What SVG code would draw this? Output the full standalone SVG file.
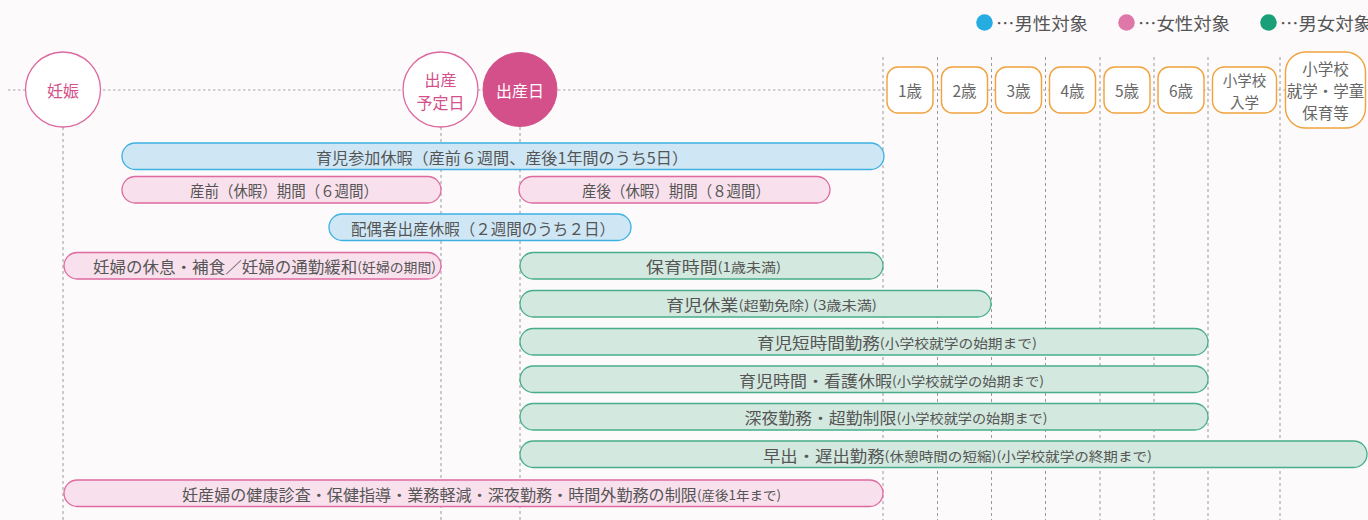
<svg xmlns="http://www.w3.org/2000/svg" width="1368" height="520" viewBox="0 0 1368 520">
<style>
text{font-family:"Noto Sans CJK JP","Noto Sans",sans-serif;}
.bg{fill:#fdfafc;}
.vl{stroke:#9a9a9a;stroke-width:1;stroke-dasharray:3 3;fill:none;}
.hl{stroke:#a8a8a8;stroke-width:1.2;stroke-dasharray:2.5 2.5;fill:none;}
.ring{fill:#ffffff;stroke:#dc6a9f;stroke-width:1.3;}
.ringf{fill:#d4508a;stroke:#d4508a;}
.ctext{fill:#d4508a;font-size:16px;text-anchor:middle;dominant-baseline:central;}
.ctextw{fill:#ffffff;font-size:16px;text-anchor:middle;dominant-baseline:central;}
.age{fill:#ffffff;stroke:#f0a23c;stroke-width:1.4;}
.atext{fill:#666666;font-size:15.5px;text-anchor:middle;dominant-baseline:central;}
.atext2{fill:#666666;font-size:14.5px;text-anchor:middle;dominant-baseline:central;}
.blue{fill:#cfe7f5;stroke:#3cb1e2;stroke-width:1.3;}
.pink{fill:#f8e1ed;stroke:#de6aa0;stroke-width:1.3;}
.green{fill:#d3e8de;stroke:#47ad8b;stroke-width:1.3;}
.bt{fill:#555555;font-size:15.5px;dominant-baseline:central;}
.sm{font-size:13px;}
.lg{fill:#555555;font-size:17.5px;dominant-baseline:central;}
</style>
<rect class="bg" x="0" y="0" width="1368" height="520"/>

<g id="connectors">
  <line class="hl" x1="8" y1="90" x2="1368" y2="90"/>
  <line class="vl" x1="63" y1="127" x2="63" y2="520"/>
  <line class="vl" x1="441" y1="127" x2="441" y2="520"/>
  <line class="vl" x1="520" y1="127" x2="520" y2="520"/>
  <line class="vl" x1="883" y1="57" x2="883" y2="520"/>
  <line class="vl" x1="937.5" y1="57" x2="937.5" y2="520"/>
  <line class="vl" x1="991.5" y1="57" x2="991.5" y2="520"/>
  <line class="vl" x1="1045.5" y1="57" x2="1045.5" y2="520"/>
  <line class="vl" x1="1100" y1="57" x2="1100" y2="520"/>
  <line class="vl" x1="1154" y1="57" x2="1154" y2="520"/>
  <line class="vl" x1="1208" y1="57" x2="1208" y2="520"/>
  <line class="vl" x1="1280" y1="57" x2="1280" y2="520"/>
</g>

<g id="legend">
  <circle cx="984.5" cy="22.5" r="8.3" fill="#25ade2"/>
  <text class="lg" x="996" y="22" textLength="92" lengthAdjust="spacingAndGlyphs">…男性対象</text>
  <circle cx="1126.5" cy="22.5" r="8.3" fill="#df78a8"/>
  <text class="lg" x="1138" y="22" textLength="92" lengthAdjust="spacingAndGlyphs">…女性対象</text>
  <circle cx="1268.5" cy="22.5" r="8.3" fill="#1b9f78"/>
  <text class="lg" x="1280" y="22" textLength="92" lengthAdjust="spacingAndGlyphs">…男女対象</text>
</g>

<g id="node-ninshin">
  <circle class="ring" cx="63" cy="89.5" r="37.5"/>
  <text class="ctext" x="63" y="90">妊娠</text>
</g>
<g id="node-yoteibi">
  <circle class="ring" cx="440.5" cy="89.5" r="37.5"/>
  <text class="ctext" x="440.5" y="79">出産</text>
  <text class="ctext" x="440.5" y="101.5">予定日</text>
</g>
<g id="node-shussanbi">
  <circle class="ringf" cx="520" cy="89.5" r="37"/>
  <text class="ctextw" x="520" y="89.5">出産日</text>
</g>

<g id="node-age1"><rect class="age" x="887" y="67" width="46" height="46" rx="11"/><text class="atext" x="910" y="90">1歳</text></g>
<g id="node-age2"><rect class="age" x="941.5" y="67" width="46" height="46" rx="11"/><text class="atext" x="964.5" y="90">2歳</text></g>
<g id="node-age3"><rect class="age" x="995.5" y="67" width="46" height="46" rx="11"/><text class="atext" x="1018.5" y="90">3歳</text></g>
<g id="node-age4"><rect class="age" x="1049.5" y="67" width="46" height="46" rx="11"/><text class="atext" x="1072.5" y="90">4歳</text></g>
<g id="node-age5"><rect class="age" x="1104" y="67" width="46" height="46" rx="11"/><text class="atext" x="1127" y="90">5歳</text></g>
<g id="node-age6"><rect class="age" x="1158" y="67" width="46" height="46" rx="11"/><text class="atext" x="1181" y="90">6歳</text></g>
<g id="node-nyugaku"><rect class="age" x="1212.5" y="67" width="64" height="46" rx="12"/><text class="atext2" x="1244.5" y="79.5">小学校</text><text class="atext2" x="1244.5" y="101">入学</text></g>
<g id="node-gakudo"><rect class="age" x="1285.5" y="52" width="80" height="76" rx="20"/><text class="atext" x="1325.5" y="68">小学校</text><text class="atext" x="1325.5" y="90">就学・学童</text><text class="atext" x="1325.5" y="112">保育等</text></g>

<g id="bar-ikuji-sanka">
  <rect class="blue" x="122" y="143" width="762" height="26.5" rx="13.25"/>
  <text class="bt" x="316" y="156.5" textLength="372" lengthAdjust="spacingAndGlyphs">育児参加休暇（産前６週間、産後1年間のうち5日）</text>
</g>
<g id="bar-sanzen">
  <rect class="pink" x="122" y="176.5" width="319" height="26.5" rx="13.25"/>
  <text class="bt" x="190" y="190" textLength="188" lengthAdjust="spacingAndGlyphs">産前（休暇）期間（６週間）</text>
</g>
<g id="bar-sango">
  <rect class="pink" x="519" y="176.5" width="311" height="26.5" rx="13.25"/>
  <text class="bt" x="582" y="190" textLength="188" lengthAdjust="spacingAndGlyphs">産後（休暇）期間（８週間）</text>
</g>
<g id="bar-haigusha">
  <rect class="blue" x="329" y="214" width="302" height="26.5" rx="13.25"/>
  <text class="bt" x="351" y="227.5" textLength="264" lengthAdjust="spacingAndGlyphs">配偶者出産休暇（２週間のうち２日）</text>
</g>
<g id="bar-ninpu-kyusoku">
  <rect class="pink" x="64" y="252.5" width="377" height="26.5" rx="13.25"/>
  <text class="bt" x="93" y="266" textLength="343" lengthAdjust="spacingAndGlyphs">妊婦の休息・補食／妊婦の通勤緩和<tspan class="sm">(妊婦の期間)</tspan></text>
</g>
<g id="bar-hoiku-jikan">
  <rect class="green" x="520" y="252.5" width="363" height="26.5" rx="13.25"/>
  <text class="bt" x="646" y="266" textLength="135" lengthAdjust="spacingAndGlyphs">保育時間<tspan class="sm">(1歳未満)</tspan></text>
</g>
<g id="bar-ikuji-kyugyo">
  <rect class="green" x="520" y="290.5" width="471" height="26.5" rx="13.25"/>
  <text class="bt" x="666" y="304" textLength="211" lengthAdjust="spacingAndGlyphs">育児休業<tspan class="sm">(超勤免除) (3歳未満)</tspan></text>
</g>
<g id="bar-tanjikan">
  <rect class="green" x="520" y="328.5" width="688" height="26.5" rx="13.25"/>
  <text class="bt" x="757" y="342" textLength="280" lengthAdjust="spacingAndGlyphs">育児短時間勤務<tspan class="sm">(小学校就学の始期まで)</tspan></text>
</g>
<g id="bar-kango">
  <rect class="green" x="520" y="366" width="688" height="26.5" rx="13.25"/>
  <text class="bt" x="739" y="379.5" textLength="305" lengthAdjust="spacingAndGlyphs">育児時間・看護休暇<tspan class="sm">(小学校就学の始期まで)</tspan></text>
</g>
<g id="bar-shinya">
  <rect class="green" x="520" y="403.5" width="688" height="26.5" rx="13.25"/>
  <text class="bt" x="744.5" y="417" textLength="303" lengthAdjust="spacingAndGlyphs">深夜勤務・超勤制限<tspan class="sm">(小学校就学の始期まで)</tspan></text>
</g>
<g id="bar-hayade">
  <rect class="green" x="520" y="441" width="847" height="26.5" rx="13.25"/>
  <text class="bt" x="763" y="454.5" textLength="389" lengthAdjust="spacingAndGlyphs">早出・遅出勤務<tspan class="sm">(休憩時間の短縮)(小学校就学の終期まで)</tspan></text>
</g>
<g id="bar-ninsanpu">
  <rect class="pink" x="64" y="480" width="819" height="26.5" rx="13.25"/>
  <text class="bt" x="182" y="493.5" textLength="599" lengthAdjust="spacingAndGlyphs">妊産婦の健康診査・保健指導・業務軽減・深夜勤務・時間外勤務の制限<tspan class="sm">(産後1年まで)</tspan></text>
</g>
</svg>
